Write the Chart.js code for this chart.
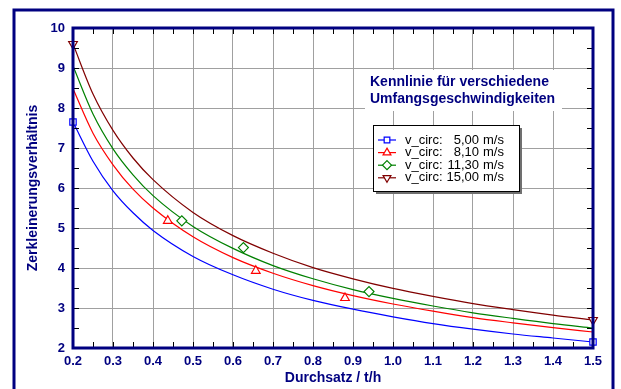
<!DOCTYPE html>
<html><head><meta charset="utf-8">
<script src="https://cdn.jsdelivr.net/npm/chart.js@4.4.1/dist/chart.umd.min.js"></script>
<style>html,body{margin:0;padding:0;background:#fff;}canvas{display:block;}</style>
</head><body>
<canvas id="c" width="621" height="389"></canvas>
<script>
// ---- data ----
const throughput = [0.2,0.25,0.3,0.35,0.4,0.5,0.6,0.7,0.8,0.9,1.0,1.1,1.2,1.3,1.4,1.5];
const ratio500  = [7.65,6.67,5.93,5.38,4.94,4.29,3.83,3.47,3.19,2.97,2.78,2.61,2.47,2.35,2.25,2.15];
const ratio810  = [8.48,7.37,6.58,5.97,5.50,4.78,4.26,3.87,3.56,3.31,3.10,2.92,2.76,2.63,2.51,2.40];
const ratio1130 = [9.05,7.85,6.98,6.33,5.81,5.04,4.49,4.06,3.73,3.46,3.24,3.05,2.88,2.74,2.61,2.50];
const ratio1500 = [9.60,8.35,7.44,6.75,6.21,5.39,4.81,4.37,4.01,3.73,3.49,3.29,3.11,2.96,2.82,2.70];

const mark500X  = [0.2,1.5],            mark500Y  = [7.65,2.15];
const mark810X  = [0.437,0.657,0.88],   mark810Y  = [5.18,3.93,3.25];
const mark1130X = [0.472,0.626,0.94],   mark1130Y = [5.18,4.51,3.41];
const mark1500X = [0.2,1.5],            mark1500Y = [9.60,2.70];

const legendName = 'v_circ:';
const speedLabels = ['5,00','8,10','11,30','15,00'];
const speedUnit = 'm/s';
const titleLines = ['Kennlinie für verschiedene','Umfangsgeschwindigkeiten'];
const xTitle = 'Durchsatz / t/h';
const yTitle = 'Zerkleinerungsverhältnis';

// ---- styling ----
const NAVY = '#000080';
const colors = ['#0000ff','#ff0000','#008000','#800000'];
const styles = ['rect','triangle','rectRot','triangle'];
const rotations = [0,0,0,180];
const FONT = "'Liberation Sans', Arial, sans-serif";

const pts = (xs, ys) => xs.map((x,i)=>({x:x,y:ys[i]}));
const series = [ratio500, ratio810, ratio1130, ratio1500];
const marks = [[mark500X,mark500Y],[mark810X,mark810Y],[mark1130X,mark1130Y],[mark1500X,mark1500Y]];

const datasets = [];
series.forEach((s,i)=>{
  datasets.push({type:'line', data: pts(throughput, s), borderColor: colors[i], borderWidth: 1.2,
    pointRadius: 0, cubicInterpolationMode: 'monotone', fill: false, order: 2});
});
marks.forEach((m,i)=>{
  datasets.push({type:'line', data: pts(m[0], m[1]), showLine: false, borderColor: colors[i],
    backgroundColor: '#ffffff', pointBackgroundColor: '#ffffff', pointBorderColor: colors[i],
    pointBorderWidth: 1.2, pointStyle: styles[i], rotation: rotations[i],
    pointRadius: i===0 ? 4.5 : 5, clip: false, order: 1});
});

function drawMarker(ctx, style, rot, x, y, r, color){
  ctx.save();
  ctx.strokeStyle = color; ctx.fillStyle = '#fff'; ctx.lineWidth = 1.2;
  ctx.beginPath();
  if (style === 'rect') { const s = r*Math.SQRT1_2; ctx.rect(x-s, y-s, 2*s, 2*s); }
  else if (style === 'rectRot') { ctx.moveTo(x, y-r); ctx.lineTo(x+r, y); ctx.lineTo(x, y+r); ctx.lineTo(x-r, y); ctx.closePath(); }
  else {
    const d = rot === 180 ? -1 : 1;
    ctx.moveTo(x, y - d*r); ctx.lineTo(x + r*0.87, y + d*r*0.5); ctx.lineTo(x - r*0.87, y + d*r*0.5); ctx.closePath();
  }
  ctx.fill(); ctx.stroke(); ctx.restore();
}

const decor = {
  id: 'decor',
  beforeDraw(chart){
    const ctx = chart.ctx;
    ctx.save();
    ctx.fillStyle = '#fff'; ctx.fillRect(0,0,chart.width,chart.height);
    ctx.strokeStyle = NAVY; ctx.lineWidth = 3;
    ctx.strokeRect(14, 10, 599, 420);
    ctx.restore();
  },
  afterDraw(chart){
    const ctx = chart.ctx, a = chart.chartArea;
    const xs = chart.scales.x, ys = chart.scales.y;
    ctx.save();
    // ticks (inward)
    ctx.strokeStyle = '#000'; ctx.lineWidth = 1;
    xs.ticks.forEach(t=>{
      const px = Math.round(xs.getPixelForValue(t.value)) + 0.5;
      ctx.beginPath(); ctx.moveTo(px, a.bottom); ctx.lineTo(px, a.bottom-6);
      ctx.moveTo(px, a.top); ctx.lineTo(px, a.top+6); ctx.stroke();
    });
    ys.ticks.forEach(t=>{
      const py = Math.round(ys.getPixelForValue(t.value)) + 0.5;
      ctx.beginPath(); ctx.moveTo(a.left, py); ctx.lineTo(a.left+6, py);
      ctx.moveTo(a.right, py); ctx.lineTo(a.right-6, py); ctx.stroke();
    });
    // plot border
    ctx.strokeStyle = NAVY; ctx.lineWidth = 3;
    ctx.strokeRect(a.left, a.top, a.right-a.left, a.bottom-a.top);
    // title block
    ctx.fillStyle = '#fff'; ctx.fillRect(365, 70, 197, 41);
    ctx.fillStyle = NAVY; ctx.font = 'bold 14px ' + FONT; ctx.textBaseline = 'middle'; ctx.textAlign = 'left';
    ctx.fillText(titleLines[0], 370, 82);
    ctx.fillText(titleLines[1], 370, 99);
    // legend box
    const bx = 373, by = 125, bw = 146, bh = 66;
    ctx.fillStyle = '#707070'; ctx.fillRect(bx+3, by+3, bw, bh);
    ctx.fillStyle = '#fff'; ctx.fillRect(bx, by, bw, bh);
    ctx.strokeStyle = '#000'; ctx.lineWidth = 1; ctx.strokeRect(bx+0.5, by+0.5, bw, bh);
    ctx.font = '13px ' + FONT; ctx.textBaseline = 'middle';
    speedLabels.forEach((lab,i)=>{
      const y = by + 15 + i*12.6;
      ctx.strokeStyle = colors[i]; ctx.lineWidth = 1.2;
      ctx.beginPath(); ctx.moveTo(378, y); ctx.lineTo(396, y); ctx.stroke();
      drawMarker(ctx, styles[i], rotations[i], 387, y, i===0?4:4.5, colors[i]);
      ctx.fillStyle = '#000';
      ctx.textAlign = 'left'; ctx.fillText(legendName, 405, y);
      ctx.textAlign = 'right'; ctx.fillText(lab, 479, y);
      ctx.textAlign = 'left'; ctx.fillText(speedUnit, 483, y);
    });
    ctx.restore();
  }
};

const isMult = (v, s) => Math.abs(Math.round(v/s) - v/s) < 1e-6;

new Chart(document.getElementById('c'), {
  data: { datasets },
  options: {
    responsive: false, animation: false,
    layout: { padding: { left: 19, top: 28, right: 28, bottom: 0 } },
    plugins: { legend: { display: false }, tooltip: { enabled: false } },
    scales: {
      x: {
        type: 'linear', min: 0.2, max: 1.5,
        afterFit(s){ s.height = 41; },
        ticks: { stepSize: 0.05, autoSkip: false, maxRotation: 0, padding: 6, color: NAVY,
          font: { family: FONT, size: 13, weight: 'bold' },
          callback: v => isMult(v, 0.1) ? v.toFixed(1) : '' },
        grid: { drawTicks: false, lineWidth: 1,
          color: c => (c.tick && isMult(c.tick.value, 0.1)) ? '#a0a0a0' : 'rgba(0,0,0,0)' },
        border: { display: false },
        title: { display: true, text: xTitle, color: NAVY, font: { family: FONT, size: 14, weight: 'bold' },
          padding: { top: 0, bottom: 2 } }
      },
      y: {
        type: 'linear', min: 2, max: 10,
        afterFit(s){ s.width = 54; },
        ticks: { stepSize: 0.5, autoSkip: false, padding: 8, color: NAVY,
          font: { family: FONT, size: 13, weight: 'bold' },
          callback: v => isMult(v, 1) ? String(v) : '' },
        grid: { drawTicks: false, lineWidth: 1,
          color: c => (c.tick && isMult(c.tick.value, 1)) ? '#a0a0a0' : 'rgba(0,0,0,0)' },
        border: { display: false },
        title: { display: true, text: yTitle, color: NAVY, font: { family: FONT, size: 14, weight: 'bold' },
          padding: { top: 6, bottom: 0 } }
      }
    }
  },
  plugins: [decor]
});
</script>
</body></html>
